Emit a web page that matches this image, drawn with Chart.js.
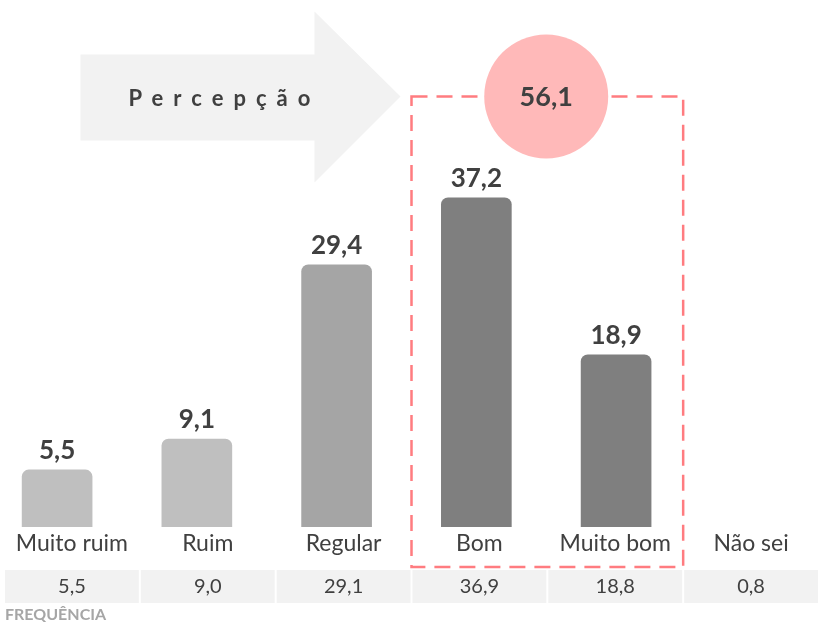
<!DOCTYPE html>
<html lang="pt-BR">
<head>
<meta charset="utf-8">
<title>Percepção</title>
<script src="https://cdn.jsdelivr.net/npm/chart.js@4.4.1/dist/chart.umd.min.js"></script>
<style>
  html, body { margin: 0; padding: 0; background: #ffffff; }
  #wrap { width: 819px; height: 623px; position: relative; }
</style>
</head>
<body>
<div id="wrap"><canvas id="chart"></canvas></div>
<script>
const categories = ["Muito ruim", "Ruim", "Regular", "Bom", "Muito bom", "Não sei"];
const barValues = [5.5, 9.1, 29.4, 37.2, 18.9, null];
const frequencies = [5.5, 9.0, 29.1, 36.9, 18.8, 0.8];
const barColors = ["#bfbfbf", "#bfbfbf", "#a5a5a5", "#7f7f7f", "#7f7f7f", "#7f7f7f"];
const highlighted = [3, 4];
const positiveShare = 56.1;
const arrowText = "Percepção";
const footnote = "FREQUÊNCIA";

const textColor = "#404040";
const font = "Lato";

// y value where the circle / dashed box top sit
const circleLevel = 49;

function formatNumber(value) {
  return value.toFixed(1).replace(".", ",");
}

const decorations = {
  id: "decorations",
  afterDatasetsDraw(chart) {
    const ctx = chart.ctx;
    const x2 = chart.scales.x2;
    const y = chart.scales.y;
    const cell = x2.width / categories.length;

    const boxLeft = x2.getPixelForValue(highlighted[0]) - cell / 2;
    const boxRight = x2.getPixelForValue(highlighted[highlighted.length - 1]) + cell / 2;
    const boxTop = y.getPixelForValue(circleLevel);
    const boxBottom = x2.top + 40;

    ctx.save();

    // arrow
    const tipX = boxLeft - 11;
    const neckX = tipX - 86;
    const tailX = tipX - 320;
    ctx.fillStyle = "#f2f2f2";
    ctx.beginPath();
    ctx.moveTo(tailX, boxTop - 42);
    ctx.lineTo(neckX, boxTop - 42);
    ctx.lineTo(neckX, boxTop - 85);
    ctx.lineTo(tipX, boxTop);
    ctx.lineTo(neckX, boxTop + 86);
    ctx.lineTo(neckX, boxTop + 44);
    ctx.lineTo(tailX, boxTop + 44);
    ctx.closePath();
    ctx.fill();

    ctx.fillStyle = textColor;
    ctx.font = "bold 22px " + font;
    ctx.letterSpacing = "10px";
    ctx.textAlign = "left";
    ctx.textBaseline = "alphabetic";
    ctx.fillText(arrowText, tailX + 48, boxTop + 10);
    ctx.letterSpacing = "0px";

    // dashed box
    ctx.strokeStyle = "#ff7c80";
    ctx.lineWidth = 2.5;
    ctx.setLineDash([16, 9]);
    ctx.strokeRect(boxLeft, boxTop, boxRight - boxLeft, boxBottom - boxTop);
    ctx.setLineDash([]);

    // circle
    const meta = chart.getDatasetMeta(0);
    const cx = (meta.data[highlighted[0]].x + meta.data[highlighted[1]].x) / 2;
    ctx.fillStyle = "#ffb9b9";
    ctx.beginPath();
    ctx.arc(cx, boxTop, 62, 0, Math.PI * 2);
    ctx.fill();
    ctx.fillStyle = textColor;
    ctx.font = "bold 27px " + font;
    ctx.textAlign = "center";
    ctx.textBaseline = "middle";
    ctx.fillText(formatNumber(positiveShare), cx, boxTop + 1);

    // value labels
    ctx.font = "bold 26px " + font;
    ctx.textBaseline = "alphabetic";
    meta.data.forEach((bar, i) => {
      if (barValues[i] === null) return;
      ctx.fillText(formatNumber(barValues[i]), bar.x, bar.y - 11);
    });

    // frequency table
    ctx.font = "20px " + font;
    ctx.textBaseline = "middle";
    frequencies.forEach((f, i) => {
      const cxCell = x2.getPixelForValue(i);
      ctx.fillStyle = "#f2f2f2";
      ctx.fillRect(cxCell - cell / 2 + 1, x2.top + 43, cell - 2, 33);
      ctx.fillStyle = textColor;
      ctx.fillText(formatNumber(f), cxCell, x2.top + 60);
    });

    ctx.fillStyle = "#a6a6a6";
    ctx.font = "bold 16px " + font;
    ctx.textAlign = "left";
    ctx.fillText(footnote, x2.left + 1, x2.top + 88);

    ctx.restore();
  }
};

new Chart(document.getElementById("chart"), {
  type: "bar",
  data: {
    labels: categories,
    datasets: [
      {
        xAxisID: "x",
        yAxisID: "y",
        data: barValues.map((v, i) => ({ x: i, y: v })),
        backgroundColor: barColors,
        barThickness: 70,
        borderRadius: { topLeft: 7, topRight: 7 },
        borderSkipped: "bottom",
        base: -1.15
      }
    ]
  },
  options: {
    responsive: true,
    maintainAspectRatio: false,
    animation: false,
    layout: { padding: { left: 4, right: -3, top: 2, bottom: 0 } },
    plugins: {
      legend: { display: false },
      tooltip: { enabled: false }
    },
    scales: {
      x: {
        type: "linear",
        min: -0.38,
        max: 5.452,
        offset: false,
        display: false
      },
      x2: {
        type: "category",
        labels: categories,
        position: "bottom",
        offset: true,
        grid: { display: false, drawTicks: false },
        border: { display: false },
        ticks: {
          color: textColor,
          font: { family: font, size: 23 },
          padding: 3,
          autoSkip: false,
          maxRotation: 0
        },
        afterFit(scale) {
          scale.height = 96;
        }
      },
      y: {
        min: -1.15,
        max: 60,
        display: false
      }
    }
  },
  plugins: [decorations]
});
</script>
</body>
</html>
